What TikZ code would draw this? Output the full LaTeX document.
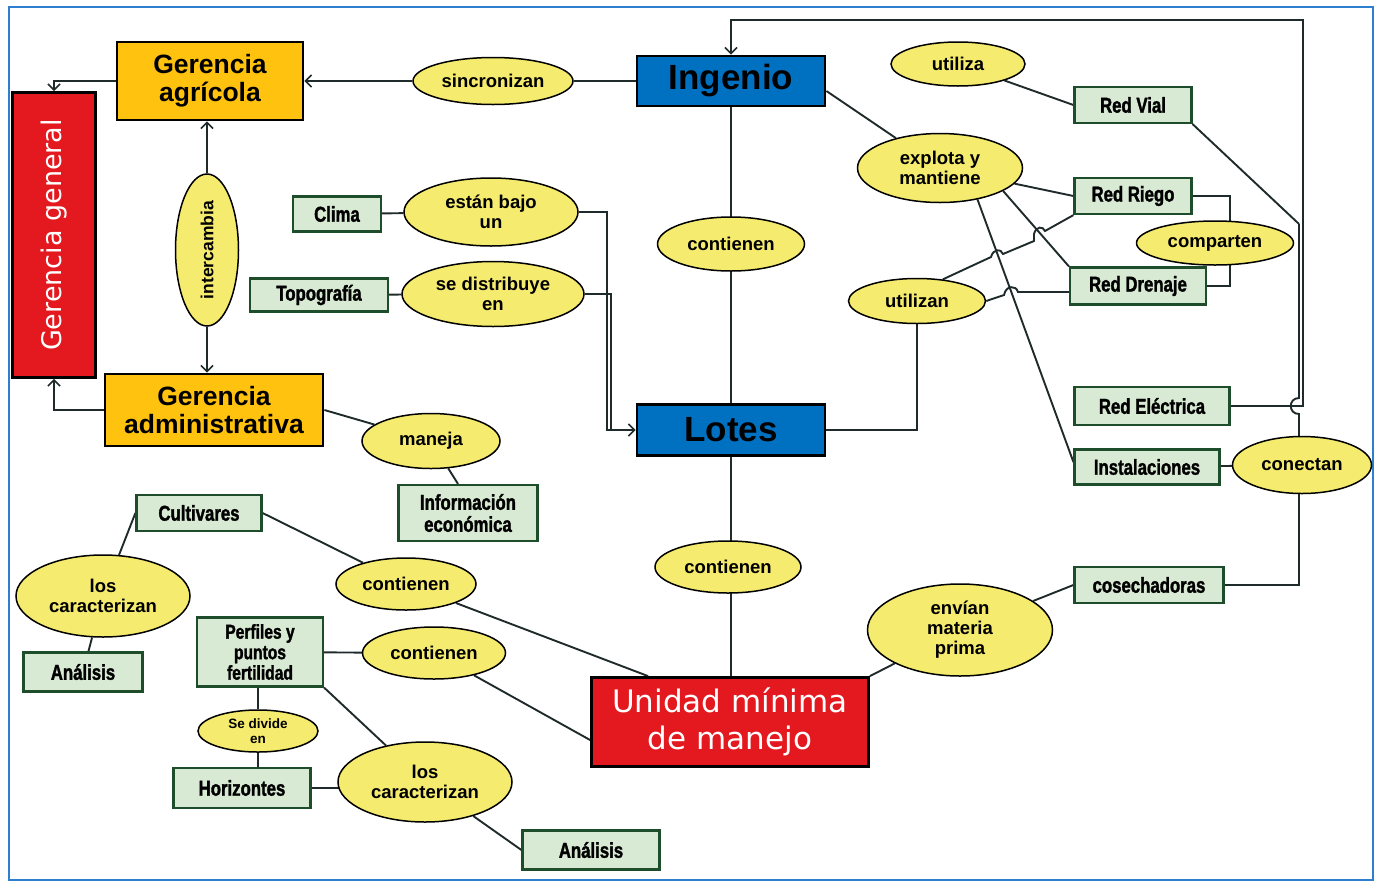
\documentclass[tikz,border=0pt]{standalone}
\usepackage{fontspec}
\setmainfont{Liberation Sans}
\newfontfamily\condf[FakeStretch=0.78,FakeBold=1.5]{Liberation Sans Bold}
\newfontfamily\dvs{DejaVu Sans}
\usetikzlibrary{shapes.geometric,arrows.meta,calc}
\pgfdeclarelayer{bg}
\pgfsetlayers{bg,main}
\definecolor{cOrange}{HTML}{FFC20E}
\definecolor{cBlue}{HTML}{0070C0}
\definecolor{cRed}{HTML}{E3191F}
\definecolor{cYellow}{HTML}{F5EB6F}
\definecolor{cGreen}{HTML}{D8EAD3}
\definecolor{cGreenD}{HTML}{1E4D2B}
\definecolor{cFrame}{HTML}{2F7FD0}
\definecolor{cLine}{HTML}{1F2A2A}
\tikzset{
 sz/.style 2 args={minimum width=#1pt, minimum height=#2pt},
 mgr/.style={draw=black, line width=2.8pt, fill=cOrange, inner sep=0pt, align=center, font=\fontsize{26.5}{28}\selectfont\bfseries},
 blu/.style={draw=black, line width=2.8pt, fill=cBlue, inner sep=0pt, font=\fontsize{35}{36}\selectfont\bfseries},
 redbox/.style={draw=black, line width=2.8pt, fill=cRed, text=white, inner sep=0pt, align=center, font=\dvs\fontsize{31}{37}\selectfont},
 gbox/.style={draw=cGreenD, line width=2.2pt, fill=cGreen, inner sep=0pt, align=center, font=\condf\fontsize{21.5}{22}\selectfont},
 ell/.style={ellipse, draw=black, line width=1.5pt, fill=cYellow, inner sep=0pt, align=center, font=\bfseries\fontsize{18.5}{20}\selectfont},
 conn/.style={draw=cLine, line width=1.9pt},
 arr/.style={conn, -{Straight Barb[length=6pt,width=12pt,line width=1.6pt]}},
}
\begin{document}
\begin{tikzpicture}[x=1pt,y=-1pt]
\useasboundingbox (0,0) rectangle (1379,884);
\draw[cFrame, line width=2.5pt] (9,7) rectangle (1373,880);

% management boxes
\node[mgr, sz={186}{78}] (GA) at (210,81) {Gerencia\\agrícola};
\node[mgr, sz={218}{72}] (GAdm) at (214,410) {Gerencia\\administrativa};
\node[redbox, rotate=90, sz={285}{83}, font=\dvs\fontsize{27}{30}\selectfont] (GG) at (54,235) {Gerencia general};
\node[blu, sz={188}{50}] (Ing) at (731,81) {Ingenio};
\node[blu, sz={188}{51}] (Lot) at (731,430) {Lotes};
\node[redbox, sz={277}{89}] (UMM) at (730,722) {Unidad mínima\\de manejo};

% green boxes
\node[gbox, sz={88}{35}] (Clima) at (337,214) {Clima};
\node[gbox, sz={138}{33}] (Topo) at (319,295) {Topografía};
\node[gbox, sz={117}{36}] (RVial) at (1133,105) {Red Vial};
\node[gbox, sz={117}{36}] (RRiego) at (1133,196) {Red Riego};
\node[gbox, sz={136}{37}] (RDren) at (1138,286) {Red Drenaje};
\node[gbox, sz={155}{38}] (RElec) at (1152,406) {Red Eléctrica};
\node[gbox, sz={145}{35}] (Inst) at (1147,467) {Instalaciones};
\node[gbox, sz={149}{36}] (cosech) at (1149,585) {cosechadoras};
\node[gbox, sz={139}{56}] (Info) at (468,513) {Información\\económica};
\node[gbox, sz={125}{36}] (Cult) at (199,513) {Cultivares};
\node[gbox, sz={119}{39}] (Anal1) at (83,672) {Análisis};
\node[gbox, sz={126}{69}, font=\condf\fontsize{20}{20.5}\selectfont] (Perf) at (260,652) {Perfiles y\\puntos\\fertilidad};
\node[gbox, sz={137}{40}] (Hor) at (242,788) {Horizontes};
\node[gbox, sz={137}{39}] (Anal2) at (591,850) {Análisis};

% ellipses
\node[ell, sz={160}{47}] (sinc) at (493,81) {sincronizan};
\node[ell, rotate=90, sz={152}{63}, font=\bfseries\fontsize{17.5}{20}\selectfont] (inter) at (207,250) {intercambia};
\node[ell, sz={174}{68}] (estan) at (491,212) {están bajo\\un};
\node[ell, sz={182}{65}] (sedist) at (493,294) {se distribuye\\en};
\node[ell, sz={138}{55}] (maneja) at (431,441) {maneja};
\node[ell, sz={147}{54}] (cont1) at (731,244) {contienen};
\node[ell, sz={146}{52}] (cont2) at (728,567) {contienen};
\node[ell, sz={134}{44}] (utiliza) at (958,64) {utiliza};
\node[ell, sz={165}{69}] (expl) at (940,168) {explota y\\mantiene};
\node[ell, sz={157}{44}] (comp) at (1215,243) {comparten};
\node[ell, sz={137}{45}] (utilizan) at (917,301) {utilizan};
\node[ell, sz={139}{57}] (conect) at (1302,465) {conectan};
\node[ell, sz={185}{92}] (envian) at (960,630) {envían\\materia\\prima};
\node[ell, sz={140}{52}] (cont3) at (406,584) {contienen};
\node[ell, sz={143}{52}] (cont4) at (434,653) {contienen};
\node[ell, sz={174}{82}] (losc1) at (103,596) {los\\caracterizan};
\node[ell, sz={174}{80}] (losc2) at (425,782) {los\\caracterizan};
\node[ell, sz={120}{42}, font=\bfseries\fontsize{13.5}{15}\selectfont] (sediv) at (258,731) {Se divide\\en};

% helper coordinates
\coordinate (j1) at (607,430);
\coordinate (j2) at (611,430);
\coordinate (topR) at (1303,20);
\coordinate (vj) at (1299,224);
\coordinate (hopB) at (1299,414);
\coordinate (hopT) at (1299,398);

\begin{pgfonlayer}{bg}
\draw[conn] (Ing) -- (sinc);
\draw[arr] (sinc) -- (GA);
\draw[arr] (GA.west) -| (GG.east);
\draw[arr] (GAdm.west) -| (GG.west);
\draw[arr] (inter) -- (inter |- GA.south);
\draw[arr] (inter) -- (inter |- GAdm.north);
\draw[conn] (Clima) -- (estan);
\draw[conn] (Topo) -- (sedist);
\draw[arr] (estan) -| (j1) -- (Lot.west);
\draw[conn] (sedist) -| (j2);
\draw[conn] (Ing) -- (Lot);
\draw[conn] (Lot) -- (Lot |- UMM.north);
\draw[conn] (Lot) -| (utilizan);
\draw[conn] ($(Ing.east)+(0,10)$) -- (expl);
\draw[conn] (expl) -- (RRiego.west);
\draw[conn] (expl.-20) -- (RDren.north west);
\draw[conn] (expl.-40) -- ($(Inst.west)+(0,-5)$);
\draw[conn] (utiliza) -- (RVial.west);
\draw[conn] (RVial.south east) -- (vj);
\draw[conn] (RRiego.east) -| ($(comp)+(15,0)$);
\draw[conn] (RDren.east) -| ($(comp)+(15,0)$);
\draw[conn] (utilizan.40) -- (991,257) .. controls (993,249) and (1001,248) .. (1003,254) -- (1034,241) -- (1034,234) .. controls (1036,226) and (1043,226) .. (1045,231) -- (RRiego.south west);
\draw[conn] (utilizan.east) -- (1004,295) .. controls (1006,285) and (1016,285) .. (1018,292) -- ($(RDren.west)+(0,6)$);
\draw[arr] (RElec.east) -| (topR) -| (Ing.north);
\draw[conn] (conect.north -| hopB) -- (hopB) .. controls (1288,414) and (1288,398) .. (hopT) -- (vj);
\draw[conn] (Inst) -- (conect);
\draw[conn] (cosech.east) -| (conect.south -| hopB);
\draw[conn] (envian) -- (cosech.west);
\draw[conn] (envian) -- (UMM.north east);
\draw[conn] (GAdm.east) -- (maneja);
\draw[conn] (maneja) -- ($(Info.north)+(-10,0)$);
\draw[conn] (Cult.east) -- (cont3);
\draw[conn] (cont3) -- ($(UMM.north west)+(58,0)$);
\draw[conn] (Cult.west) -- (losc1);
\draw[conn] (losc1) -- (Anal1);
\draw[conn] (Perf) -- (cont4);
\draw[conn] (cont4) -- ($(UMM.west)+(0,18)$);
\draw[conn] (sediv) -- (sediv |- Perf.south);
\draw[conn] (sediv) -- (sediv |- Hor.north);
\draw[conn] (Perf.south east) -- (losc2);
\draw[conn] (Hor) -- (losc2 |- Hor);
\draw[conn] (losc2) -- (Anal2.west);
\end{pgfonlayer}
\end{tikzpicture}
\end{document}
